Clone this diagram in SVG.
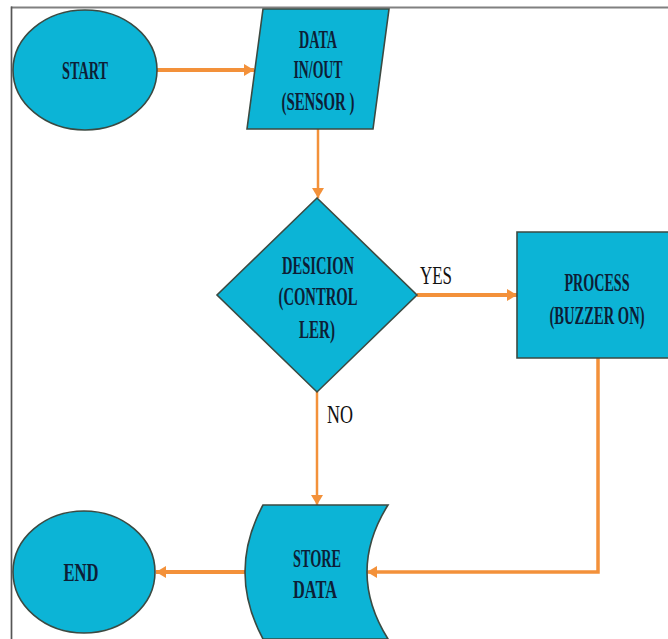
<svg xmlns="http://www.w3.org/2000/svg" width="668" height="639" viewBox="0 0 668 639">
<style>
.node{fill:#0cb4d6;stroke:#3b4a42;stroke-width:1.6}
.lbl{font-family:"Liberation Serif","Times New Roman",serif;font-weight:bold;font-size:26px;fill:#0d1e36;text-anchor:middle}
.edge{font-family:"Liberation Serif","Times New Roman",serif;font-size:26px;fill:#111;text-anchor:start}
.con{fill:none;stroke:#f3913a;stroke-linejoin:miter}
</style>
<defs>
<marker id="ah" markerUnits="userSpaceOnUse" markerWidth="12" markerHeight="14" refX="10" refY="6" orient="auto">
<path d="M0,0 L10,6 L0,12 Z" fill="#f3913a"/>
</marker>
</defs>
<rect width="668" height="639" fill="#ffffff"/>
<g id="frame">
<line x1="11" y1="7.5" x2="668" y2="7.5" stroke="#808080" stroke-width="2.2"/>
<line x1="11.5" y1="6.5" x2="11.5" y2="639" stroke="#555" stroke-width="1.7"/>
</g>
<g id="connectors">
<line class="con" x1="157" y1="70" x2="254" y2="70" stroke-width="4" marker-end="url(#ah)"/>
<line class="con" x1="318" y1="129" x2="318" y2="198" stroke-width="2.5" marker-end="url(#ah)"/>
<line class="con" x1="417" y1="295" x2="517" y2="295" stroke-width="4" marker-end="url(#ah)"/>
<line class="con" x1="317" y1="392" x2="317" y2="505" stroke-width="2.5" marker-end="url(#ah)"/>
<polyline class="con" points="598,358 598,572 367,572" stroke-width="3.5" marker-end="url(#ah)"/>
<line class="con" x1="245" y1="572" x2="156" y2="572" stroke-width="4" marker-end="url(#ah)"/>
<text class="edge" x="420" y="284" textLength="32" lengthAdjust="spacingAndGlyphs">YES</text>
<text class="edge" x="327" y="423" textLength="26" lengthAdjust="spacingAndGlyphs">NO</text>
</g>
<g id="start">
<ellipse class="node" cx="85" cy="70" rx="72" ry="60"/>
<text class="lbl" x="85" y="79" textLength="46" lengthAdjust="spacingAndGlyphs">START</text>
</g>
<g id="data-io">
<polygon class="node" points="263,9 389,9 373,129 247,129"/>
<text class="lbl" x="318" y="48" textLength="38" lengthAdjust="spacingAndGlyphs">DATA</text>
<text class="lbl" x="318" y="78" textLength="49" lengthAdjust="spacingAndGlyphs">IN/OUT</text>
<text class="lbl" x="318" y="110" textLength="73" lengthAdjust="spacingAndGlyphs">(SENSOR )</text>
</g>
<g id="decision">
<polygon class="node" points="317,198 417,295 317,392 217,295"/>
<text class="lbl" x="318" y="274" textLength="72" lengthAdjust="spacingAndGlyphs">DESICION</text>
<text class="lbl" x="318" y="305" textLength="79" lengthAdjust="spacingAndGlyphs">(CONTROL</text>
<text class="lbl" x="317" y="338" textLength="36" lengthAdjust="spacingAndGlyphs">LER)</text>
</g>
<g id="process">
<rect x="517" y="232" width="151" height="126" fill="#0cb4d6"/>
<path d="M668,232 H517 V358 H668" fill="none" stroke="#3b4a42" stroke-width="1.6"/>
<text class="lbl" x="597" y="291" textLength="65" lengthAdjust="spacingAndGlyphs">PROCESS</text>
<text class="lbl" x="597" y="324" textLength="95" lengthAdjust="spacingAndGlyphs">(BUZZER ON)</text>
</g>
<g id="store">
<path class="node" d="M263,505 L388,505 Q346,572 388,639 L263,639 Q227,572 263,505 Z"/>
<text class="lbl" x="317" y="567" textLength="48" lengthAdjust="spacingAndGlyphs">STORE</text>
<text class="lbl" x="315" y="598" textLength="44" lengthAdjust="spacingAndGlyphs">DATA</text>
</g>
<g id="end">
<ellipse class="node" cx="84" cy="572" rx="71" ry="61"/>
<text class="lbl" x="81" y="581" textLength="35" lengthAdjust="spacingAndGlyphs">END</text>
</g>
</svg>
